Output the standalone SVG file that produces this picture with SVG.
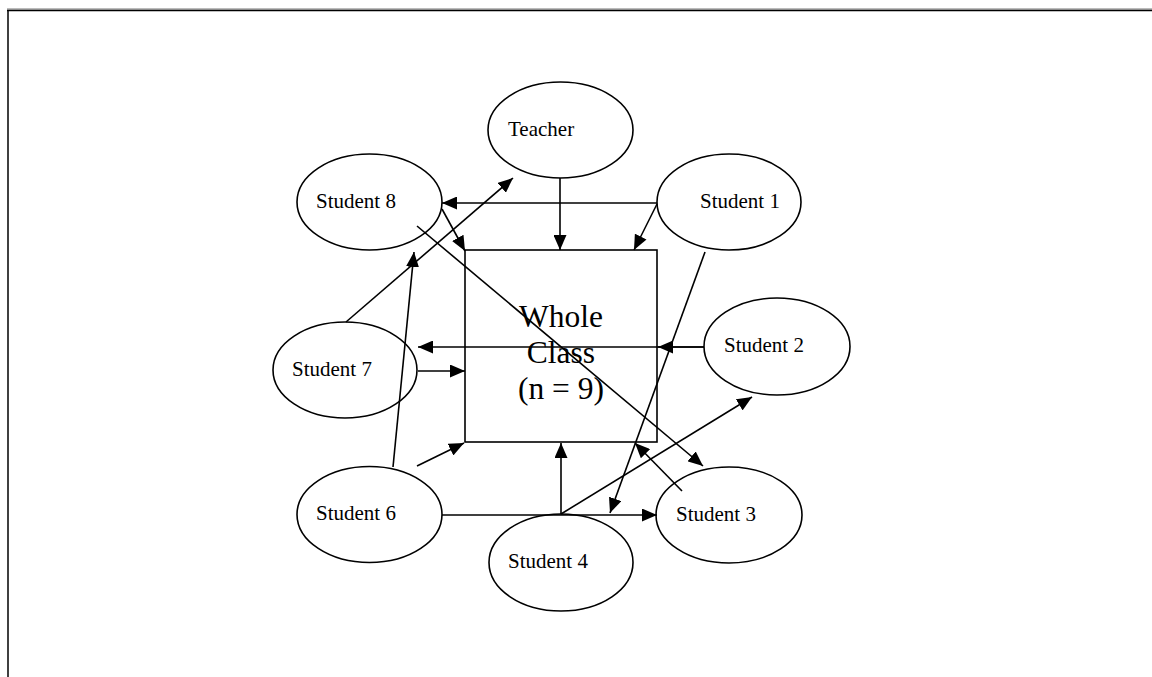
<svg xmlns="http://www.w3.org/2000/svg" width="1152" height="677" viewBox="0 0 1152 677">
<style>
.n{fill:#fff;stroke:#000;stroke-width:1.6}
.t{font-family:"Liberation Serif","Times New Roman",serif;font-size:21px;fill:#000}
.big{font-family:"Liberation Serif","Times New Roman",serif;font-size:31.5px;fill:#000;text-anchor:middle}
.c line{stroke:#000;stroke-width:1.6;fill:none}
.a{marker-end:url(#ah)}
</style>
<defs>
<marker id="ah" markerUnits="userSpaceOnUse" markerWidth="16" markerHeight="13" refX="15" refY="6.5" orient="auto">
<path d="M0,0 L15,6.5 L0,13 z" fill="#000"/>
</marker>
</defs>
<rect width="1152" height="677" fill="#fff"/>
<g id="frame">
<line x1="7" y1="9" x2="1152" y2="9" stroke="#777" stroke-width="1"/>
<line x1="7" y1="10.5" x2="1152" y2="10.5" stroke="#000" stroke-width="1.5"/>
<line x1="8" y1="10" x2="8" y2="677" stroke="#000" stroke-width="1.5"/>
</g>
<g id="whole-class">
<rect class="n" x="465" y="250" width="192" height="192"/>
</g>
<g id="teacher"><ellipse class="n" cx="560.5" cy="130" rx="72.5" ry="48"/><text class="t" x="508" y="136">Teacher</text></g>
<g id="student8"><ellipse class="n" cx="369.5" cy="202" rx="72.5" ry="48"/><text class="t" x="316" y="208">Student 8</text></g>
<g id="student1"><ellipse class="n" cx="729" cy="202" rx="72" ry="48"/><text class="t" x="700" y="208">Student 1</text></g>
<g id="student7"><ellipse class="n" cx="345" cy="370" rx="72" ry="48"/><text class="t" x="292" y="376">Student 7</text></g>
<g id="student2"><ellipse class="n" cx="777" cy="346.5" rx="73" ry="48.5"/><text class="t" x="724" y="352">Student 2</text></g>
<g id="student6"><ellipse class="n" cx="369.5" cy="514.5" rx="72.5" ry="48"/><text class="t" x="316" y="520">Student 6</text></g>
<g id="student3"><ellipse class="n" cx="729" cy="515" rx="73" ry="48"/><text class="t" x="676" y="521">Student 3</text></g>
<g id="student4"><ellipse class="n" cx="561" cy="562.5" rx="72" ry="48.5"/><text class="t" x="508" y="568">Student 4</text></g>
<g id="connectors" class="c">
<line class="a" x1="560" y1="178" x2="560" y2="250"/>
<line class="a" x1="657" y1="203" x2="442" y2="203"/>
<line class="a" x1="657" y1="204" x2="634" y2="250"/>
<line class="a" x1="442" y1="209" x2="465" y2="251"/>
<line class="a" x1="346" y1="322" x2="513" y2="178"/>
<line class="a" x1="393" y1="467" x2="414" y2="252"/>
<line class="a" x1="704" y1="347" x2="418" y2="347"/>
<line class="a" x1="704" y1="347" x2="658" y2="347"/>
<line class="a" x1="418" y1="371" x2="465" y2="371"/>
<line class="a" x1="417" y1="466" x2="464" y2="443"/>
<line class="a" x1="417" y1="226" x2="703" y2="466"/>
<line class="a" x1="705" y1="252" x2="610" y2="513"/>
<line class="a" x1="442" y1="515" x2="657" y2="515"/>
<line class="a" x1="561" y1="514" x2="561" y2="443"/>
<line class="a" x1="561" y1="514" x2="752" y2="397"/>
<line class="a" x1="682" y1="491" x2="635" y2="443"/>
</g>
<g id="whole-class-label">
<text class="big" x="561" y="327">Whole</text>
<text class="big" x="561" y="363">Class</text>
<text class="big" x="561" y="399">(n = 9)</text>
</g>
</svg>
